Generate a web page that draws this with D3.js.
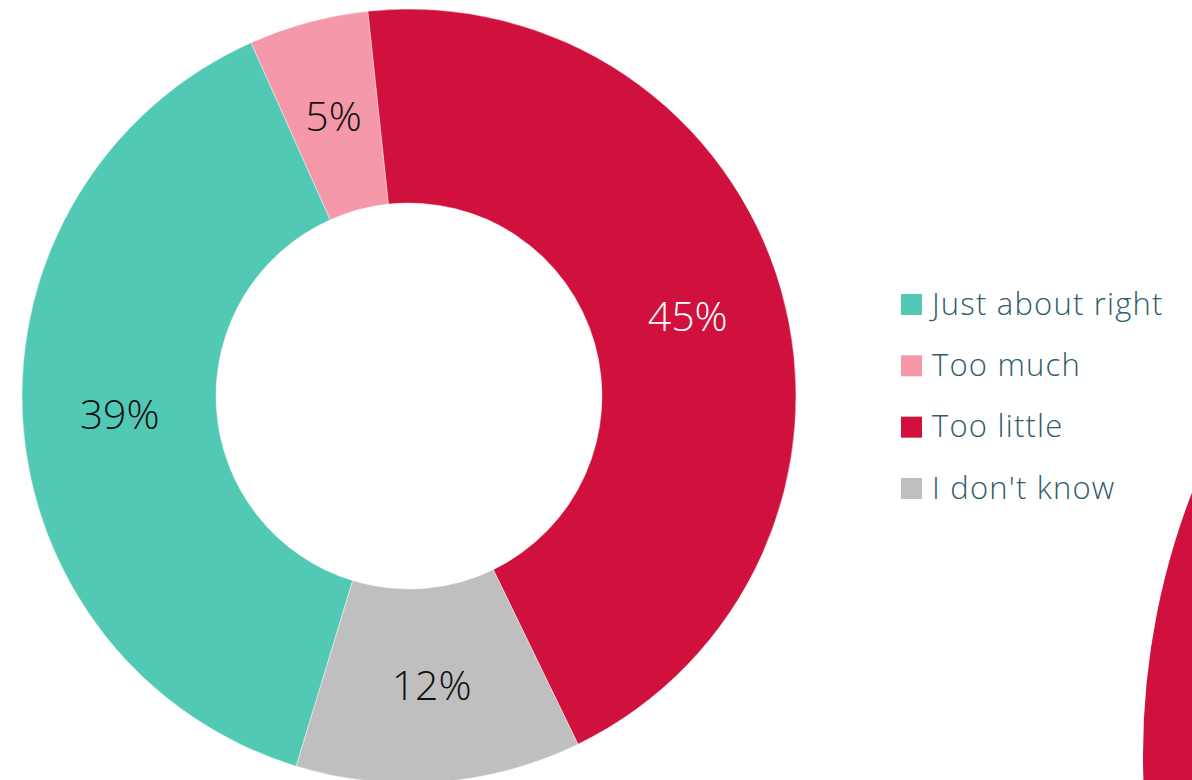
<!DOCTYPE html>
<html>
<head>
<meta charset="utf-8">
<script src="https://cdn.jsdelivr.net/npm/d3@7"></script>
<style>
  html, body { margin: 0; padding: 0; background: #fff; overflow: hidden; }
  svg { display: block; }
</style>
</head>
<body>
<svg id="chart" width="1192" height="780"></svg>
<script>
// ---- data ----
const categories = ["Just about right", "Too much", "Too little", "I don't know"];
const values = [38.6, 5.0, 44.5, 11.9];
const valueLabels = ["39%", "5%", "45%", "12%"];
const colors = ["#52C9B4", "#F598AA", "#D0103D", "#BFBFBF"];
const labelColors = ["#111111", "#111111", "#ffffff", "#111111"];

// ---- layout ----
const W = 1192, H = 780;
const cx = 409, cy = 396;
const outerR = 387, innerR = 193;
const startDeg = 196.95;
const fontFam = "'Open Sans', 'Segoe UI', 'Noto Sans', sans-serif";

const svg = d3.select("#chart");

// partial donut of a neighbouring chart, visible at the right edge
svg.append("circle")
  .attr("cx", 1871).attr("cy", 755).attr("r", 728)
  .attr("fill", colors[2]);

const data = categories.map((c, i) => ({ cat: c, value: values[i], label: valueLabels[i], color: colors[i], lc: labelColors[i] }));

const pie = d3.pie()
  .sort(null)
  .value(d => d.value)
  .startAngle(startDeg * Math.PI / 180)
  .endAngle(startDeg * Math.PI / 180 + 2 * Math.PI);

const arc = d3.arc().innerRadius(innerR).outerRadius(outerR);

const g = svg.append("g").attr("transform", `translate(${cx},${cy})`);
const arcs = pie(data);

g.selectAll("path.slice")
  .data(arcs)
  .enter().append("path")
  .attr("class", "slice")
  .attr("d", arc)
  .attr("fill", d => d.data.color)
  .attr("stroke", "#ffffff")
  .attr("stroke-width", 0.4);

g.selectAll("text.lbl")
  .data(arcs)
  .enter().append("text")
  .attr("class", "lbl")
  .attr("x", d => arc.centroid(d)[0])
  .attr("y", d => arc.centroid(d)[1] + 15)
  .attr("text-anchor", "middle")
  .attr("font-family", fontFam)
  .attr("font-weight", 300)
  .attr("font-size", 41)
  .attr("fill", d => d.data.lc)
  .text(d => d.data.label);

// ---- legend ----
const legY = d3.scalePoint().domain(categories).range([294, 478]);
const leg = svg.append("g");
const items = leg.selectAll("g.item").data(data).enter().append("g").attr("class", "item")
  .attr("transform", d => `translate(901,${legY(d.cat)})`);
items.append("rect")
  .attr("width", 21).attr("height", 21)
  .attr("fill", d => d.color);
items.append("text")
  .attr("x", 31).attr("y", 20.5)
  .attr("font-family", fontFam)
  .attr("font-weight", 300)
  .attr("font-size", 31)
  .attr("letter-spacing", 1.2)
  .attr("fill", "#2F5D6B")
  .text(d => d.cat);
</script>
</body>
</html>
